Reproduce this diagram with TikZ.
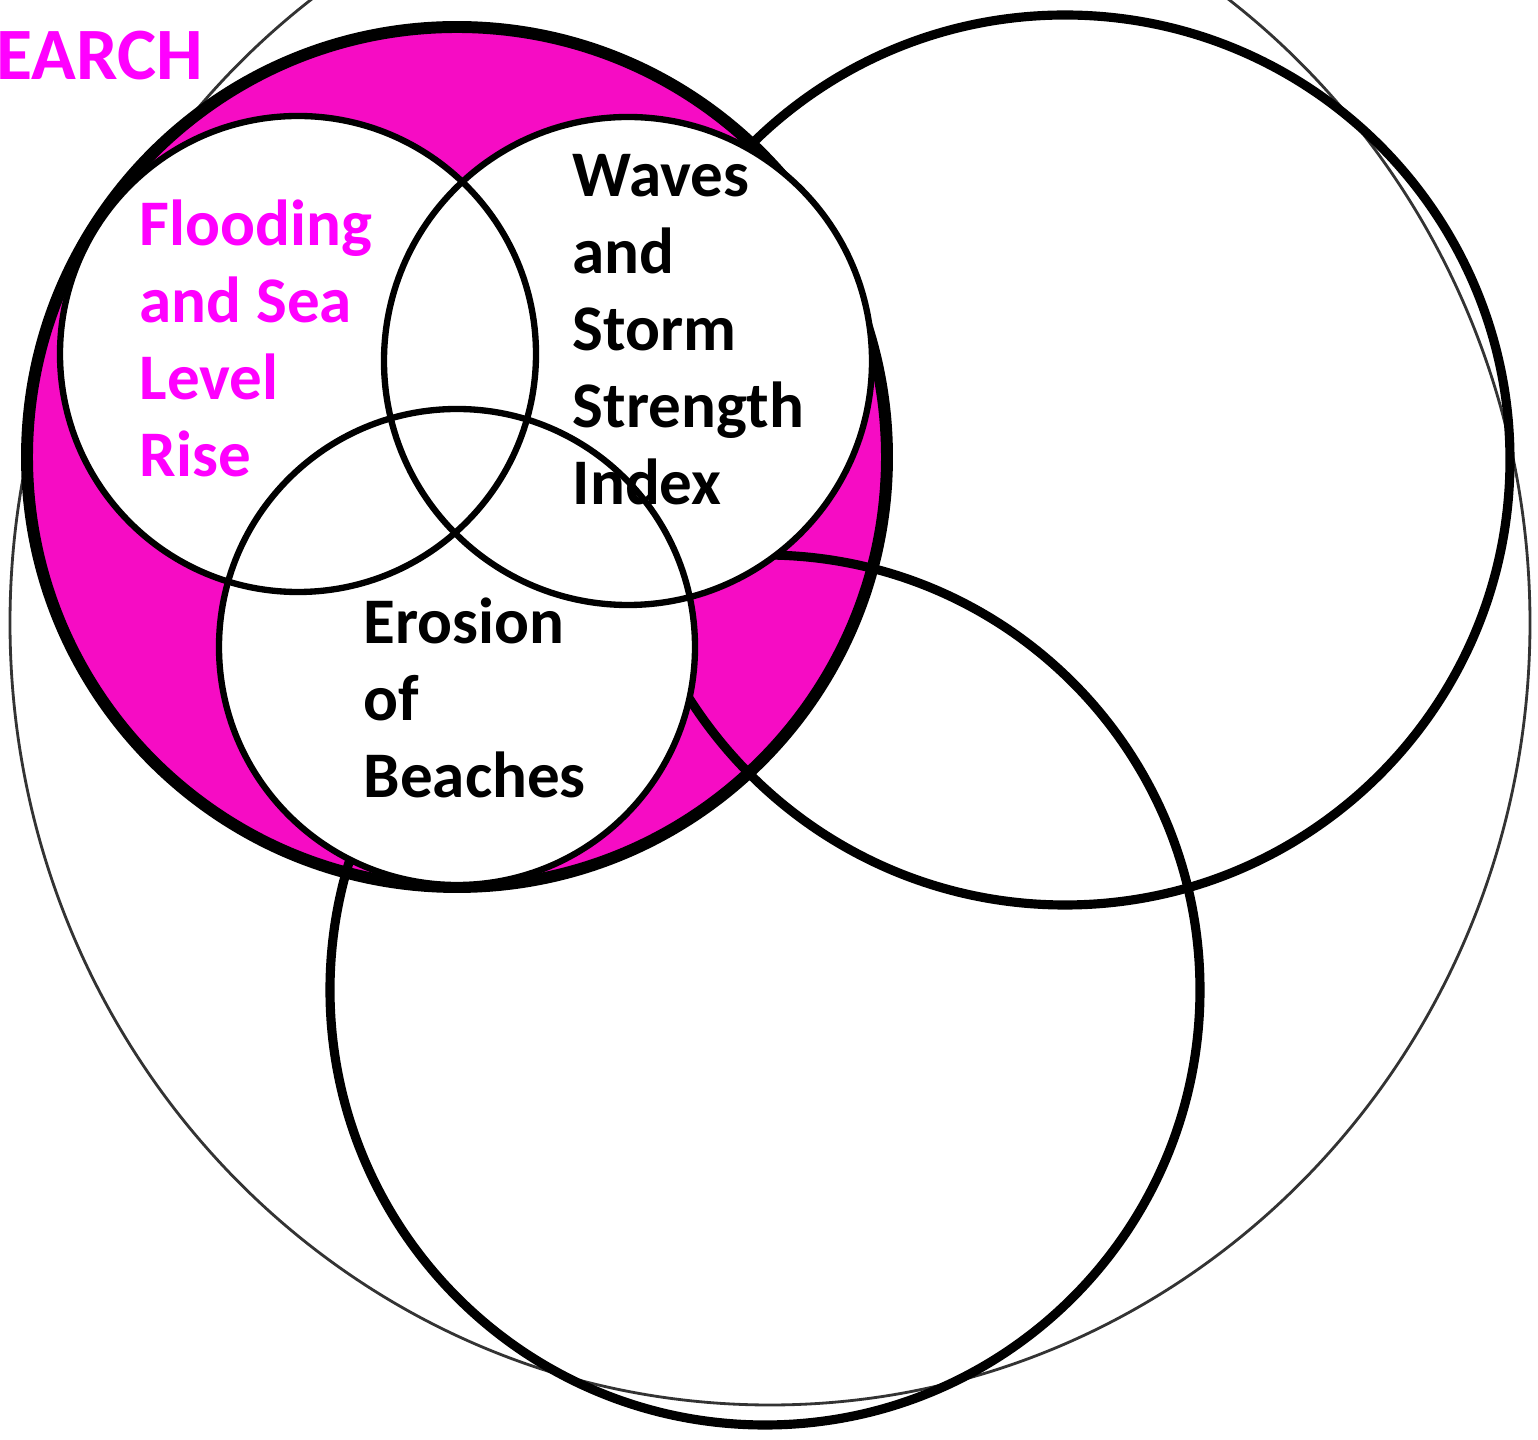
\documentclass[tikz,border=0pt]{standalone}
\usepackage{fontspec}
\setmainfont{Carlito}
\usepackage{tikz}
\definecolor{ringpink}{RGB}{246,12,196}
\definecolor{labelmagenta}{RGB}{255,0,255}

\begin{document}
\begin{tikzpicture}[x=0.01cm,y=-0.01cm,
  lbl/.style={inner sep=0pt,anchor=base west,align=left,
    font=\fontsize{18.5}{21.9}\selectfont\bfseries}]
  \useasboundingbox (0,0) rectangle (1538,1440);
  % faint pencil circle round everything
  \draw[black!80,line width=0.8pt] (770,623) ellipse (760 and 782);
  % pink disc, the two outer circles cross it
  \fill[ringpink] (457,457) circle (430);
  \draw[black,line width=2.6pt] (1065,460) circle (445);
  \draw[black,line width=2.6pt] (765,990) circle (435);
  \draw[black,line width=3.4pt] (457,457) circle (430);
  % the three white circles
  \fill[white] (298,354) circle (238) (628,361) circle (244) (457,647) circle (238);
  \draw[black,line width=1.8pt] (298,354) circle (238);
  \draw[black,line width=1.8pt] (628,361) circle (244);
  \draw[black,line width=1.8pt] (457,647) circle (238);
  % labels (base = last line)
  \node[lbl,labelmagenta,font=\fontsize{21}{25}\selectfont\bfseries] (earch) at (-4,80) {EARCH};
  \node[lbl,labelmagenta] (flood) at (139,477) {Flooding\\and Sea\\Level\\Rise};
  \node[lbl] (waves) at (572,505) {Waves\\and\\Storm\\Strength\\Index};
  \node[lbl] (erosion) at (363,798) {Erosion\\of\\Beaches};
\end{tikzpicture}
\end{document}
